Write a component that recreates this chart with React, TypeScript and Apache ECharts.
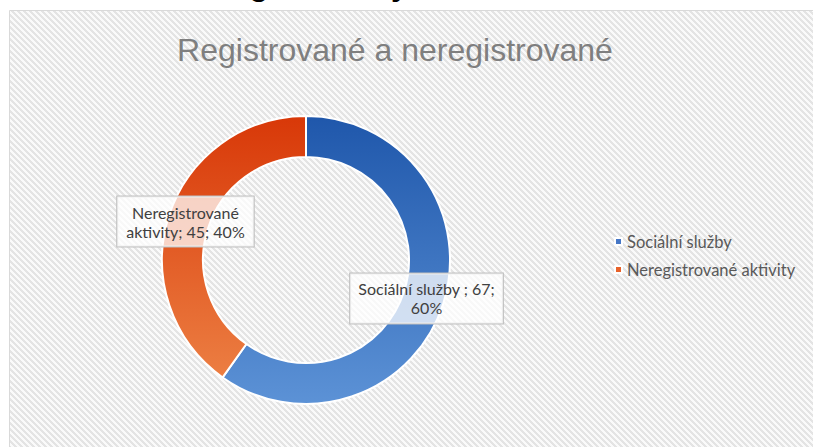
import React, { useEffect, useRef } from "react";
import * as echarts from "echarts";

const categories = ["Sociální služby", "Neregistrované aktivity"];
const values = [67, 45];
const percents = [60, 40];
const labelTexts = ["Sociální služby ; 67;\n60%", "Neregistrované\naktivity; 45; 40%"];
const titleText = "Registrované a neregistrované";
const headingText = "Registrovaný";

function makeHatch(): HTMLCanvasElement {
  const c = document.createElement("canvas");
  c.width = 6;
  c.height = 6;
  const ctx = c.getContext("2d")!;
  const img = ctx.createImageData(6, 6);
  for (let y = 0; y < 6; y++) {
    for (let x = 0; x < 6; x++) {
      const on = (x - y + 12) % 6 < 3;
      const v = on ? 228 : 250;
      const i = (y * 6 + x) * 4;
      img.data[i] = v;
      img.data[i + 1] = v;
      img.data[i + 2] = v;
      img.data[i + 3] = 255;
    }
  }
  ctx.putImageData(img, 0, 0);
  return c;
}

export default function App() {
  const ref = useRef<HTMLDivElement>(null);
  useEffect(() => {
    if (!ref.current) return;
    const chart = echarts.init(ref.current, undefined, { renderer: "svg" });
    const hatch = makeHatch();
    const gradients = [
      new echarts.graphic.LinearGradient(0, 0, 0, 1, [
        { offset: 0, color: "#1f57ab" },
        { offset: 1, color: "#5c92d6" },
      ]),
      new echarts.graphic.LinearGradient(0, 0, 0, 1, [
        { offset: 0, color: "#d83808" },
        { offset: 1, color: "#ec7e42" },
      ]),
    ];
    const legendColors = ["#4677c6", "#e8622a"];
    const labelPads = [
      [6, 8],
      [6, 9],
    ];
    chart.setOption({
      animation: false,
      backgroundColor: "#ffffff",
      graphic: [
        {
          type: "rect",
          z: -10,
          silent: true,
          shape: { x: 9.5, y: 10.5, width: 810, height: 445 },
          style: { fill: { image: hatch, repeat: "repeat" } as any, stroke: "#d9d9d9", lineWidth: 1 },
        },
        {
          type: "text",
          left: 209,
          top: -32.5,
          silent: true,
          style: {
            text: headingText,
            fontFamily: "Liberation Sans",
            fontWeight: "bold",
            fontSize: 31.5,
            fill: "#000000",
          },
        },
      ],
      title: {
        text: titleText,
        left: 390,
        top: 29,
        textAlign: "center",
        textStyle: {
          fontFamily: "Liberation Sans",
          fontSize: 32,
          fontWeight: "normal",
          color: "#7f7f7f",
        },
      },
      legend: {
        orient: "vertical",
        left: 609,
        top: 228,
        itemWidth: 7,
        itemHeight: 7,
        itemGap: 11,
        icon: "rect",
        textStyle: { fontFamily: "Lato", fontSize: 16.5, color: "#595959" },
        data: categories.map((n, i) => ({ name: n, itemStyle: { color: legendColors[i] } })),
      },
      series: [
        {
          type: "pie",
          center: [306, 260],
          radius: [103, 144],
          startAngle: 90,
          clockwise: true,
          avoidLabelOverlap: false,
          itemStyle: { borderColor: "#ffffff", borderWidth: 2 },
          emphasis: { disabled: true },
          label: {
            show: true,
            position: "inside",
            fontFamily: "Lato",
            fontSize: 16,
            lineHeight: 19,
            color: "#404040",
            align: "center",
            backgroundColor: "rgba(255,255,255,0.75)",
            borderColor: "#bfbfbf",
            borderWidth: 1,
          },
          labelLine: { show: false },
          data: categories.map((n, i) => ({
            name: n,
            value: values[i],
            itemStyle: { color: gradients[i] },
            label: {
              formatter: labelTexts[i],
              padding: labelPads[i],
            },
          })),
        },
      ],
    });
    return () => chart.dispose();
  }, []);
  return (
    <div
      ref={ref}
      style={{ position: "absolute", left: 0, top: 0, width: 813, height: 447 }}
    />
  );
}
